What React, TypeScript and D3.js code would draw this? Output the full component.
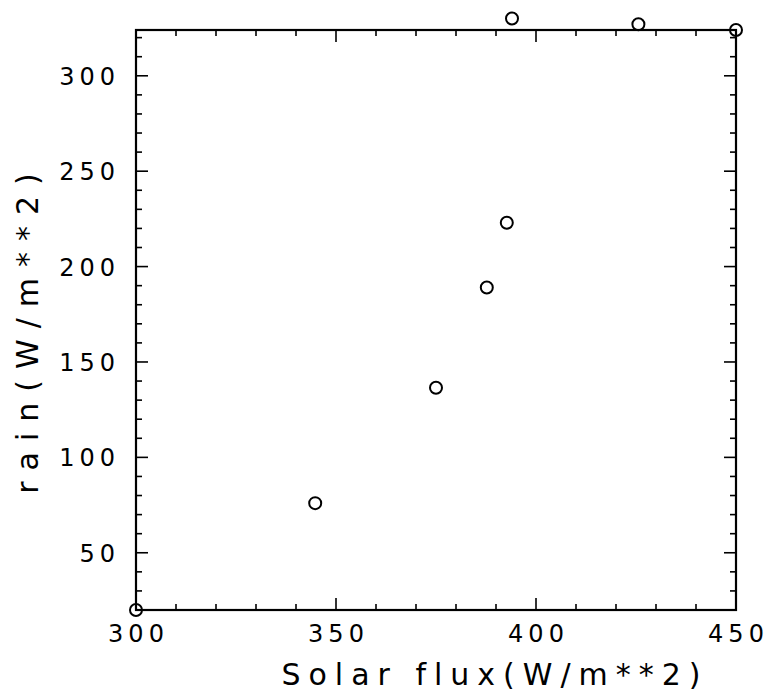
import React from "react";
import * as d3 from "d3";

const solarFlux = [300, 344.8, 375, 387.7, 392.7, 394, 425.6, 450];
const rain = [20, 76, 136.5, 189, 223, 330, 327, 324];
const xTicks = [300, 350, 400, 450];
const yTicks = [50, 100, 150, 200, 250, 300];
const xTitle = "Solar  flux(W/m**2)";
const yTitle = "rain(W/m**2)";

const W = 768;
const H = 697;
const L = 136, R = 736, T = 30, B = 610;

export default function App() {
  const x = d3.scaleLinear().domain([300, 450]).range([L, R]);
  const y = d3.scaleLinear().domain([20, 324]).range([B, T]);
  const xMinor = d3.range(310, 450, 10).filter((v) => v % 50 !== 0);
  const yMinor = d3.range(20, 325, 10).filter((v) => v % 50 !== 0);
  const font = "'DejaVu Sans', sans-serif";
  const major = 12, minor = 6;
  return (
    <svg width={W} height={H} style={{ position: "absolute", left: 0, top: 0, background: "#fff" }}>
      <g stroke="#000" strokeWidth={1.6}>
        {xTicks.map((v) => (
          <g key={"xm" + v}>
            <line x1={x(v)} x2={x(v)} y1={B} y2={B - major} />
            <line x1={x(v)} x2={x(v)} y1={T} y2={T + major} />
          </g>
        ))}
        {xMinor.map((v) => (
          <g key={"xn" + v}>
            <line x1={x(v)} x2={x(v)} y1={B} y2={B - minor} />
            <line x1={x(v)} x2={x(v)} y1={T} y2={T + minor} />
          </g>
        ))}
        {yTicks.map((v) => (
          <g key={"ym" + v}>
            <line x1={L} x2={L + major} y1={y(v)} y2={y(v)} />
            <line x1={R} x2={R - major} y1={y(v)} y2={y(v)} />
          </g>
        ))}
        {yMinor.map((v) => (
          <g key={"yn" + v}>
            <line x1={L} x2={L + minor} y1={y(v)} y2={y(v)} />
            <line x1={R} x2={R - minor} y1={y(v)} y2={y(v)} />
          </g>
        ))}
      </g>
      <rect x={L} y={T} width={R - L} height={B - T} fill="none" stroke="#000" strokeWidth={2.2} />
      {solarFlux.map((v, i) => (
        <circle key={i} cx={x(v)} cy={y(rain[i])} r={6} fill="none" stroke="#000" strokeWidth={2} />
      ))}
      <g fontFamily={font} fontSize={24} fill="#000" letterSpacing={5}>
        {xTicks.map((v) => (
          <text key={"xl" + v} x={x(v) + 2.5} y={B + 32} textAnchor="middle">{v}</text>
        ))}
        {yTicks.map((v) => (
          <text key={"yl" + v} x={L - 16} y={y(v) + 9} textAnchor="end">{v}</text>
        ))}
      </g>
      <text x={495} y={685} textAnchor="middle" fontFamily={font} fontSize={30} letterSpacing={8}>{xTitle}</text>
      <text transform={`translate(38,${328}) rotate(-90)`} textAnchor="middle" fontFamily={font} fontSize={30} letterSpacing={11}>{yTitle}</text>
    </svg>
  );
}
